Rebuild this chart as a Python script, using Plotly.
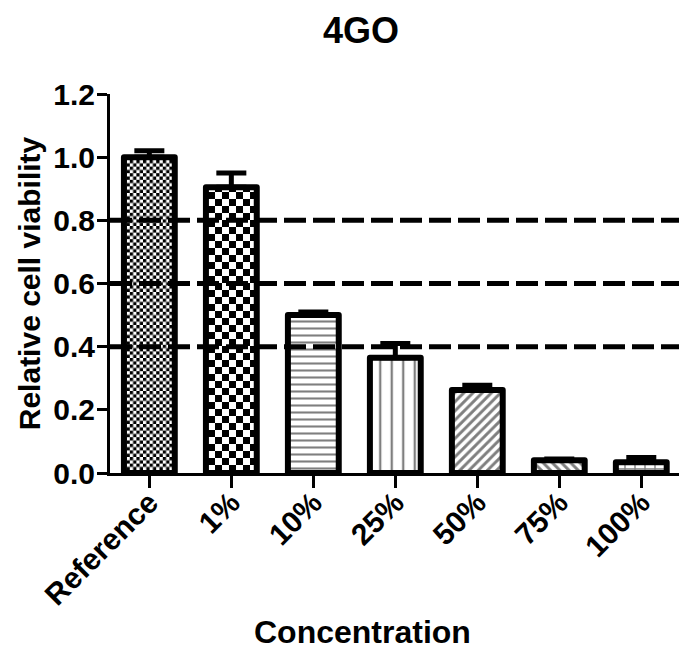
import plotly.graph_objects as go

# Cell viability of 4GO extracts at increasing concentration
categories = ["Reference", "1%", "10%", "25%", "50%", "75%", "100%"]
viability = [1.000, 0.905, 0.500, 0.365, 0.263, 0.040, 0.034]
sem_upper = [0.020, 0.045, 0.010, 0.045, 0.015, 0.004, 0.015]
thresholds = [0.4, 0.6, 0.8]
y_ticks = [0.0, 0.2, 0.4, 0.6, 0.8, 1.0, 1.2]

# Fill pattern per bar ('.' bars get a checkerboard in the page script below)
pattern_shapes = [".", ".", "-", "|", "/", "\\", "+"]
pattern_sizes = [3.3, 7, 7, 11.5, 6.5, 6.5, 10]
pattern_solid = [0.5, 0.5, 0.3, 0.2, 0.45, 0.45, 0.25]

FONT = "Liberation Sans, Arial, sans-serif"

fig = go.Figure()
fig.add_trace(go.Bar(
    x=categories,
    y=viability,
    width=0.62,
    marker=dict(
        color="white",
        line=dict(color="black", width=6),
        pattern=dict(shape=pattern_shapes, size=pattern_sizes,
                     solidity=pattern_solid, fgcolor="black",
                     bgcolor="white", fillmode="overlay"),
    ),
    error_y=dict(type="data", symmetric=False, array=sem_upper,
                 arrayminus=[0] * len(sem_upper),
                 color="black", thickness=5, width=15),
    showlegend=False,
))

for t in thresholds:
    fig.add_shape(type="line", xref="paper", x0=0, x1=1, yref="y", y0=t, y1=t,
                  line=dict(color="black", width=5, dash="22px,7px"), layer="above")

fig.update_layout(
    width=681, height=650,
    margin=dict(l=110, r=2, t=94, b=177),
    paper_bgcolor="white", plot_bgcolor="white",
    font=dict(family=FONT, color="black"),
    title=dict(text="4GO", x=0.53, xanchor="center", y=0.953, yanchor="middle",
               font=dict(size=36, weight="bold", family=FONT)),
)
fig.update_yaxes(
    range=[0, 1.2], tickvals=y_ticks, ticktext=[f"{v:.1f}" for v in y_ticks],
    showline=True, linecolor="black", linewidth=3,
    ticks="outside", ticklen=10, tickwidth=3, tickcolor="black",
    tickfont=dict(size=30, weight="bold", family=FONT),
    ticklabelstandoff=-4,
    showgrid=False, zeroline=False,
    title=dict(text="Relative cell viability", standoff=4,
               font=dict(size=30, weight="bold", family=FONT)),
)
fig.update_xaxes(
    range=[-0.48, 6.46],
    showline=True, linecolor="black", linewidth=3,
    ticks="outside", ticklen=12, tickwidth=3, tickcolor="black",
    tickangle=-45, tickfont=dict(size=30, weight="bold", family=FONT),
    ticklabelstandoff=-15,
    showgrid=False, zeroline=False,
)
fig.add_annotation(text="Concentration", xref="paper", yref="paper",
                   x=0.443, y=-0.42, xanchor="center", yanchor="middle",
                   showarrow=False, font=dict(size=32, weight="bold", family=FONT))

# Replace the dot fill on '.' bars with a true checkerboard and round the outlines
post = """
var gd = document.getElementById('{plot_id}');
function checkerFill() {
  var svg = gd.querySelector('svg.main-svg');
  if (!svg) return;
  var defs = svg.querySelector('defs');
  var NS = 'http://www.w3.org/2000/svg';
  var tr = gd.data[0];
  var shapes = tr.marker.pattern.shape, sizes = tr.marker.pattern.size;
  var pts = gd.querySelectorAll('.barlayer .point path');
  for (var i = 0; i < pts.length; i++) {
    pts[i].style.strokeLinejoin = 'round';
    if (shapes[i] !== '.') continue;
    var s = sizes[i], id = 'chk-' + gd._fullLayout._uid + '-' + i;
    if (!document.getElementById(id)) {
      var p = document.createElementNS(NS, 'pattern');
      p.setAttribute('id', id);
      p.setAttribute('patternUnits', 'userSpaceOnUse');
      p.setAttribute('width', 2 * s); p.setAttribute('height', 2 * s);
      var bg = document.createElementNS(NS, 'rect');
      bg.setAttribute('width', 2 * s); bg.setAttribute('height', 2 * s);
      bg.setAttribute('fill', 'white'); p.appendChild(bg);
      [[0, 0], [s, s]].forEach(function (o) {
        var r = document.createElementNS(NS, 'rect');
        r.setAttribute('x', o[0]); r.setAttribute('y', o[1]);
        r.setAttribute('width', s); r.setAttribute('height', s);
        r.setAttribute('fill', 'black'); p.appendChild(r);
      });
      defs.appendChild(p);
    }
    pts[i].style.fill = 'url(#' + id + ')';
  }
}
checkerFill();
gd.on('plotly_afterplot', checkerFill);
"""

fig.write_html("out.html", post_script=post)
